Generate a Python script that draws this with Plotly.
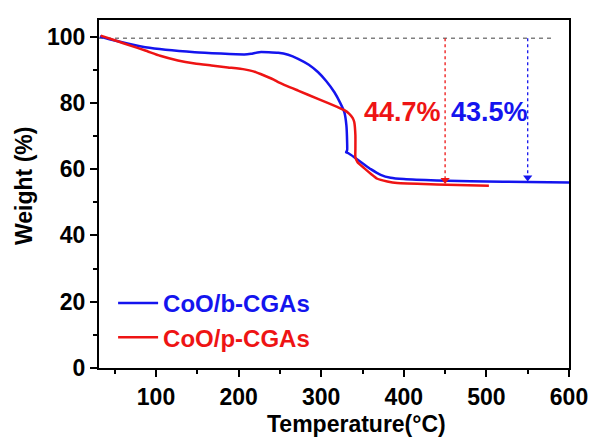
import plotly.graph_objects as go

# CoO/b-CGAs (blue)
blue_T = [32, 50, 87, 147, 207, 215, 225, 248, 260, 272, 285, 296, 306, 316, 323, 328,
          330.5, 331.4, 331.4, 330.2, 333, 340, 350, 360, 372, 384, 400, 440, 520, 600]
blue_W = [100, 98.8, 96.8, 95.3, 94.6, 94.8, 95.3, 95.1, 94.5, 93.3, 91.5, 89.3, 86.6, 83.2, 80, 77.2,
          73.2, 68, 65.7, 65.1, 64.8, 63.6, 61.8, 60.0, 58.3, 57.4, 57.0, 56.6, 56.2, 56.0]

# CoO/p-CGAs (red)
red_T = [33, 51, 70, 87, 105, 126.5, 147, 167, 187, 207, 218, 226.6, 242.5, 248.5, 272, 296,
         320, 328, 334, 338, 340, 341.4, 341.4, 341.4, 344, 352, 360, 368, 380, 392, 440, 503]
red_W = [100.3, 98.8, 97.2, 95.8, 94.2, 92.8, 91.9, 91.3, 90.7, 90.1, 89.5, 88.7, 87.0, 86.2, 83.7, 81.2,
         78.7, 77.8, 76.7, 75.5, 74.2, 70.2, 66, 63.6, 62.1, 60.3, 58.6, 57.1, 56.3, 55.8, 55.4, 55.0]

series_names = ["CoO/b-CGAs", "CoO/p-CGAs"]
BLUE = "#1414ee"
RED = "#ee1414"

ref_T = [31, 580]
ref_W = [99.5, 99.5]

arrow_T = [450, 550]
arrow_top = 99.5
arrow_bottom = [55.7, 56.5]
arrow_labels = ["44.7%", "43.5%"]
label_T = [399, 504]
label_W = 77.1

x_ticks = [100, 200, 300, 400, 500, 600]
y_ticks = [0, 20, 40, 60, 80, 100]

FONT = "Liberation Sans"

fig = go.Figure()

fig.add_trace(go.Scatter(x=ref_T, y=ref_W, mode="lines", showlegend=False,
                         line=dict(color="#808080", width=1.5, dash="4px,4px")))

fig.add_trace(go.Scatter(x=blue_T, y=blue_W, mode="lines",
                         name=f"<span style='color:{BLUE}'>{series_names[0]}</span>",
                         line=dict(color=BLUE, width=2.5, shape="spline", smoothing=0.5)))
fig.add_trace(go.Scatter(x=red_T, y=red_W, mode="lines",
                         name=f"<span style='color:{RED}'>{series_names[1]}</span>",
                         line=dict(color=RED, width=2.5, shape="spline", smoothing=0.5)))

for t, yb, c in zip(arrow_T, arrow_bottom, [RED, BLUE]):
    fig.add_trace(go.Scatter(x=[t, t], y=[arrow_top, yb + 1.2], mode="lines", showlegend=False,
                             line=dict(color=c, width=1.3, dash="3px,3px")))
    fig.add_trace(go.Scatter(x=[t], y=[yb + 1.0], mode="markers", showlegend=False,
                             marker=dict(symbol="triangle-down", size=8, color=c, line=dict(width=0))))

for t, txt, c in zip(label_T, arrow_labels, [RED, BLUE]):
    fig.add_annotation(x=t, y=label_W, text=txt, showarrow=False,
                       font=dict(family=FONT, size=27, color=c, weight="bold"))

fig.add_annotation(xref="paper", yref="paper", x=0, y=0.523, xshift=-75, text="Weight (%)",
                   textangle=-90, showarrow=False, xanchor="center", yanchor="middle",
                   font=dict(family=FONT, size=23, color="black", weight="bold"))
fig.add_annotation(xref="paper", yref="paper", x=0.547, y=-0.16, text="Temperature(°C)",
                   showarrow=False, xanchor="center", yanchor="middle",
                   font=dict(family=FONT, size=23, color="black", weight="bold"))

axis_common = dict(showline=True, linewidth=2, linecolor="black", mirror=True,
                   ticks="outside", ticklen=7, tickwidth=2, tickcolor="black",
                   showgrid=False, zeroline=False,
                   tickfont=dict(family=FONT, size=23, color="black", weight="bold"))

fig.update_xaxes(range=[31, 600], tickvals=x_ticks,
                 minor=dict(ticks="outside", ticklen=4, tickwidth=2, tickcolor="black", dtick=50, tick0=0),
                 **axis_common)
fig.update_yaxes(range=[0, 105], tickvals=y_ticks,
                 minor=dict(ticks="outside", ticklen=4, tickwidth=2, tickcolor="black", dtick=10, tick0=0),
                 **axis_common)

fig.update_layout(
    width=600, height=437,
    margin=dict(l=99, r=26, t=20, b=69),
    paper_bgcolor="white", plot_bgcolor="white",
    legend=dict(x=0.03, y=0.25, xanchor="left", yanchor="top", bgcolor="rgba(0,0,0,0)",
                font=dict(family=FONT, size=24, weight="bold"), tracegroupgap=0,
                itemwidth=40),
)

fig.write_html("out.html")
